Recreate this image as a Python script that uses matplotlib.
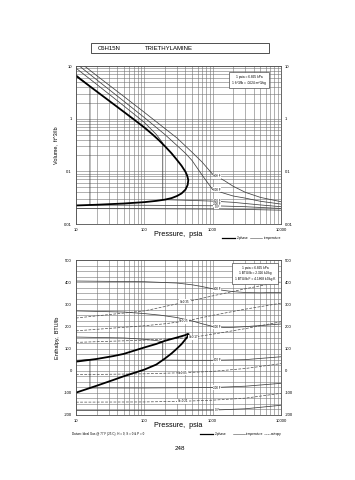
import numpy as np
import matplotlib
matplotlib.use('Agg')
import matplotlib.pyplot as plt
from matplotlib.patches import Rectangle
from matplotlib.ticker import LogLocator, MultipleLocator, FixedLocator, NullFormatter

plt.rcParams['font.family'] = ['Liberation Sans', 'DejaVu Sans']
plt.rcParams['axes.unicode_minus'] = False

W, H = 355, 480

# ---- volume chart (pressure psia, volume ft^3/lb) ----
sat_vap_p = [10, 20, 50, 70, 100, 130, 160, 200, 250, 300, 350, 400, 425, 440]
sat_vap_v = [6.5, 3.3, 1.35, 0.97, 0.68, 0.51, 0.40, 0.30, 0.22, 0.165, 0.128, 0.098, 0.082, 0.068]
sat_liq_p = [440, 430, 400, 350, 300, 250, 200, 150, 100, 50, 20, 10]
sat_liq_v = [0.068, 0.055, 0.045, 0.038, 0.034, 0.031, 0.029, 0.0275, 0.026, 0.0245, 0.0232, 0.0225]

iso_v = {
    '800 F': ([13.3, 20, 50, 100, 200, 300, 500, 700, 1000, 1500, 2000, 3000, 5000, 10000],
              [10, 6.6, 2.65, 1.32, 0.65, 0.43, 0.23, 0.15, 0.088, 0.066, 0.052, 0.040, 0.032, 0.0265]),
    '600 F': ([11.2, 20, 50, 100, 200, 300, 400, 500, 700, 1000, 1500, 2000, 3000, 5000, 10000],
              [10, 5.5, 2.15, 1.05, 0.50, 0.31, 0.22, 0.16, 0.085, 0.045, 0.038, 0.034, 0.031, 0.027, 0.0239]),
    '400 F': ([10, 20, 50, 100, 150, 186, 186, 300, 500, 1000, 2000, 3000, 5000, 10000],
              [9.1, 4.5, 1.75, 0.85, 0.50, 0.345, 0.029, 0.0285, 0.028, 0.0272, 0.0258, 0.0245, 0.023, 0.0213]),
    '200 F': ([10, 16, 16, 100, 1000, 3000, 10000],
              [6.8, 4.1, 0.0229, 0.0227, 0.0222, 0.0213, 0.0197]),
    '0 F': ([10, 100, 1000, 3000, 10000],
            [0.0196, 0.0195, 0.0192, 0.0189, 0.0183]),
}
iso_v_label = {'800 F': 0.080, '600 F': 0.045, '400 F': 0.0272, '200 F': 0.0236, '0 F': 0.0210}

# ---- enthalpy chart (pressure psia, enthalpy BTU/lb) ----
sat_vap_h_p = [10, 20, 35, 50, 100, 150, 200, 300, 400, 430, 445]
sat_vap_h = [41, 53, 66, 76, 105, 121, 135, 150, 161, 166, 165]
sat_liq_h_p = [440, 420, 400, 350, 300, 250, 200, 150, 100, 50, 35, 20, 16, 10]
sat_liq_h = [160, 150, 142, 120, 100, 78, 55, 28, 5, -25, -42, -68, -78, -99]

iso_h = {
    '800 F': ([10, 100, 300, 500, 700, 1000, 1500, 2000, 3000, 5000, 10000],
              [405, 402, 396, 388, 380, 370, 362, 357, 353, 352, 354]),
    '600 F': ([10, 50, 100, 170, 300, 500, 700, 1000, 1500, 2000, 3000, 5000, 10000],
              [270, 265, 258, 251, 240, 225, 212, 200, 195, 196, 199, 204, 211]),
    '400 F': ([10, 50, 100, 150, 186, 186, 500, 1000, 3000, 10000],
              [152, 148, 142, 136, 131, 48, 47, 47, 50, 63]),
    '200 F': ([10, 16, 16, 100, 1000, 3000, 10000],
              [47, 51, -78, -78, -76, -70, -57]),
    '0 F': ([10, 100, 1000, 3000, 10000],
            [-180, -180, -178, -172, -156]),
}
iso_h_label = {'800 F': 368, '600 F': 198, '400 F': 47, '200 F': -76, '0 F': -178}

ent = {
    'S=0.35': ([10, 100, 200, 400, 1000, 3000, 10000], [238, 270, 290, 310, 338, 370, 402]),
    'S=0.25': ([10, 100, 200, 400, 1000, 3000, 10000], [180, 203, 212, 224, 250, 278, 305]),
    'S=0.17': ([10, 100, 300, 490, 1000, 3000, 10000], [128, 138, 146, 150, 165, 190, 221]),
    'S=0.05': ([10, 100, 370, 1000, 3000, 10000], [-18, -14, -9, -3, 10, 32]),
    'S=-0.21': ([10, 100, 370, 1000, 3000, 10000], [-142, -141, -138, -133, -124, -102]),
}
ent_label = {'S=0.35': (390, 312), 'S=0.25': (380, 224), 'S=0.17': (520, 150),
             'S=0.05': (370, -9), 'S=-0.21': (370, -138)}

xticks = [10, 100, 1000, 10000]
xticklabels = ['10', '100', '1000', '10000']
vticks = [0.01, 0.1, 1, 10]
vticklabels = ['0.01', '0.1', '1', '10']
hticks = [-200, -100, 0, 100, 200, 300, 400, 500]

GRID = '0.45'
fs_tick = 3.0


def fx(x):
    return x / W


def fy(y):
    return 1 - y / H


def setup(ax):
    ax.set_xscale('log')
    ax.set_xlim(10, 10000)
    ax.xaxis.set_major_locator(FixedLocator(xticks))
    ax.xaxis.set_minor_locator(LogLocator(base=10, subs=np.arange(2, 10)))
    ax.xaxis.set_minor_formatter(NullFormatter())
    ax.set_xticklabels(xticklabels)
    ax.grid(True, which='both', color=GRID, lw=0.4)
    ax.tick_params(which='both', length=0, labelsize=fs_tick, pad=3)
    ax.tick_params(axis='y', labelright=True, right=True)
    for s in ax.spines.values():
        s.set_color('0.3')
        s.set_linewidth(0.6)
    ax.set_axisbelow(True)


fig = plt.figure(figsize=(W / 100, H / 100), dpi=100)

# title box
fig.patches.append(Rectangle((fx(91), fy(53)), fx(178), 10 / H, transform=fig.transFigure,
                             fill=False, lw=0.6, ec='0.2'))
fig.text(fx(98), fy(48), 'C6H15N', fontsize=4.3, va='center')
fig.text(fx(145), fy(48), 'TRIETHYLAMINE', fontsize=4.3, va='center')

# ---------- top chart ----------
ax1 = fig.add_axes([fx(76), fy(224), fx(205), 158 / H])
setup(ax1)
ax1.set_yscale('log')
ax1.set_ylim(0.01, 10)
ax1.yaxis.set_major_locator(FixedLocator(vticks))
ax1.yaxis.set_minor_locator(LogLocator(base=10, subs=np.arange(2, 10)))
ax1.yaxis.set_minor_formatter(NullFormatter())
ax1.set_yticklabels(vticklabels)

for name, (p, v) in iso_v.items():
    ax1.plot(p, v, color='0.25', lw=0.55)
    ax1.text(1150, iso_v_label[name], name, fontsize=2.2, ha='center', va='center',
             bbox=dict(fc='white', ec='none', pad=0.3))
ax1.plot(sat_vap_p + sat_liq_p, sat_vap_v + sat_liq_v, color='black', lw=1.3)

ax1.set_ylabel('Volume,  ft^3/lb', fontsize=4, labelpad=4)
ax1.text(0.5, -0.065, 'Pressure,  psia', transform=ax1.transAxes, fontsize=5.2, ha='center', va='center')
ax1.text(0.844, 0.91, '1 psia = 6.895 kPa\n1 ft^3/lb = .0624 m^3/kg', transform=ax1.transAxes,
         fontsize=2.3, ha='center', va='center', linespacing=1.6,
         bbox=dict(fc='white', ec='0.3', lw=0.5, boxstyle='square,pad=0.9'))

# legend under top chart
fig.add_artist(plt.Line2D([fx(222), fx(235)], [fy(238), fy(238)], color='black', lw=0.9))
fig.text(fx(237), fy(238), '2-phase', fontsize=2.3, va='center')
fig.add_artist(plt.Line2D([fx(250), fx(262)], [fy(238), fy(238)], color='0.3', lw=0.4))
fig.text(fx(264), fy(238), 'temperature', fontsize=2.3, va='center')

# ---------- bottom chart ----------
ax2 = fig.add_axes([fx(76), fy(415), fx(205), 155 / H])
setup(ax2)
ax2.set_ylim(-200, 500)
ax2.yaxis.set_major_locator(FixedLocator(hticks))
ax2.yaxis.set_minor_locator(MultipleLocator(25))

for name, (p, h) in iso_h.items():
    ax2.plot(p, h, color='0.25', lw=0.55)
    ax2.text(1150, iso_h_label[name], name, fontsize=2.2, ha='center', va='center',
             bbox=dict(fc='white', ec='none', pad=0.3))
for name, (p, h) in ent.items():
    ax2.plot(p, h, color='0.3', lw=0.5, ls=(0, (4, 2)))
    lx, ly = ent_label[name]
    ax2.text(lx, ly, name, fontsize=2.2, ha='center', va='center',
             bbox=dict(fc='white', ec='none', pad=0.3))
ax2.plot(sat_vap_h_p + sat_liq_h_p, sat_vap_h + sat_liq_h, color='black', lw=1.3)

ax2.set_ylabel('Enthalpy,  BTU/lb', fontsize=4, labelpad=3)
ax2.text(0.5, -0.07, 'Pressure,  psia', transform=ax2.transAxes, fontsize=5.2, ha='center', va='center')
ax2.text(0.873, 0.913, '1 psia = 6.895 kPa\n1 BTU/lb = 2.326 kJ/kg\n1 BTU/lb F = 4.1868 kJ/kg K',
         transform=ax2.transAxes, fontsize=2.3, ha='center', va='center', linespacing=1.6,
         bbox=dict(fc='white', ec='0.3', lw=0.5, boxstyle='square,pad=0.9'))

# footnote and legend under bottom chart
fig.text(fx(72), fy(434), 'Datum: Ideal Gas @ 77 F (25 C), H = 0, S = 0 & P = 0', fontsize=2.2, va='center')
fig.add_artist(plt.Line2D([fx(200), fx(213)], [fy(434), fy(434)], color='black', lw=0.9))
fig.text(fx(215), fy(434), '2-phase', fontsize=2.3, va='center')
fig.add_artist(plt.Line2D([fx(233), fx(245)], [fy(434), fy(434)], color='0.3', lw=0.4))
fig.text(fx(246), fy(434), 'temperature', fontsize=2.3, va='center')
fig.add_artist(plt.Line2D([fx(264), fx(270)], [fy(434), fy(434)], color='0.3', lw=0.4, ls=(0, (2, 1))))
fig.text(fx(271), fy(434), 'entropy', fontsize=2.3, va='center')

fig.text(fx(180), fy(448), '248', fontsize=4.5, ha='center', va='center')

fig.savefig('out.png', dpi=100)
